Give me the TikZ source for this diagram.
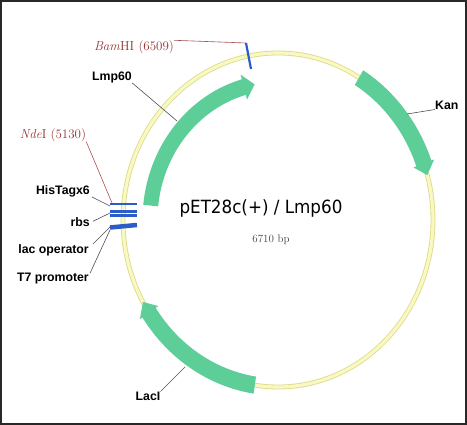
\documentclass[tikz,border=0pt]{standalone}
\usepackage{fontspec}
\newfontfamily\lblfont{Liberation Sans}
\newfontfamily\titlefont[FakeStretch=0.92]{DejaVu Sans}
\definecolor{genegreen}{RGB}{94,206,152}
\definecolor{ringedge}{RGB}{218,218,140}
\definecolor{ringfill}{RGB}{248,248,192}
\definecolor{featblue}{RGB}{44,92,200}
\definecolor{sitered}{RGB}{150,50,50}
\definecolor{siteline}{RGB}{165,80,80}
\definecolor{leadgrey}{RGB}{80,80,80}
\definecolor{framecol}{RGB}{40,40,40}
\def\ellk{1.0774}
\newcommand\genearrow[6]{%
  \pgfmathsetmacro\gaRo{#1+#2/2}\pgfmathsetmacro\gaRoy{(#1+#2/2)*\ellk}%
  \pgfmathsetmacro\gaRi{#1-#2/2}\pgfmathsetmacro\gaRiy{(#1-#2/2)*\ellk}%
  \pgfmathsetmacro\gaHo{#1+#3/2}\pgfmathsetmacro\gaHoy{(#1+#3/2)*\ellk}%
  \pgfmathsetmacro\gaHi{#1-#3/2}\pgfmathsetmacro\gaHiy{(#1-#3/2)*\ellk}%
  \pgfmathsetmacro\gaRy{#1*\ellk}%
  \fill[gene] (#4:\gaRo pt and \gaRoy pt)
    arc[start angle=#4, end angle=#5, x radius=\gaRo pt, y radius=\gaRoy pt]
    -- (#5:\gaHo pt and \gaHoy pt) -- (#6:#1pt and \gaRy pt)
    -- (#5:\gaHi pt and \gaHiy pt) -- (#5:\gaRi pt and \gaRiy pt)
    arc[start angle=#5, end angle=#4, x radius=\gaRi pt, y radius=\gaRiy pt]
    -- cycle;}
\begin{document}
\begin{tikzpicture}[x=1pt,y=1pt,
  gene/.style={fill=genegreen},
  ring/.style={draw=ringedge, line width=0.8pt, double=ringfill, double distance=3.2pt},
  feat/.style={draw=featblue},
  lbl/.style={inner sep=0pt, font=\lblfont\bfseries\fontsize{12.3}{14}\selectfont, text=black},
  site/.style={inner sep=0pt, text=sitered, font=\fontsize{13}{15}\selectfont},
  lead/.style={draw=leadgrey, line width=0.6pt},
  sitelead/.style={draw=siteline, line width=0.6pt}]
\useasboundingbox (-278,-205) rectangle (189,220);
% plasmid ring
\draw[ring] (0,0) ellipse [x radius=155pt, y radius=167pt];
% genes
\genearrow{128}{15}{24}{174}{105.5}{100.5}
\genearrow{155}{16}{22}{58.5}{19.8}{15.6}
\genearrow{155}{16}{22}{261.4}{213.7}{209.4}
\begin{scope}[shift={(-278,220)}, y=-1pt]
  \draw[line width=1.5pt, draw=framecol] (1,1) rectangle (466,424);
  % feature coordinates
  \coordinate (bamtop) at (246,43);
  \coordinate (bambot) at (251,69);
  \coordinate (lmpedge) at (177,121);
  \coordinate (ndesite) at (112,203);
  \coordinate (hisend) at (110,206);
  \coordinate (rbsend) at (110,213);
  \coordinate (lacend) at (110,227);
  \coordinate (t7end) at (110,230);
  \coordinate (kanedge) at (407,114);
  \coordinate (laciedge) at (185,367);
  % features
  \draw[feat, line width=2.2pt] (bamtop) -- (bambot);
  \draw[feat, line width=1.8pt] (110,204) -- (137,204);
  \draw[feat, line width=2.8pt] (110,211.2) -- (137,211.2);
  \draw[feat, line width=2.8pt] (110,215.2) -- (137,215.2);
  \draw[feat, line width=4.5pt] (110,227.5) -- (137,225);
  % labels
  \node[site] (bam) at (134,47) {\textit{Bam}HI (6509)};
  \node[site] (nde) at (53,135) {\textit{Nde}I (5130)};
  \node[lbl] (lmp) at (112,77) {Lmp60};
  \node[lbl, anchor=east] (his) at (90,191) {HisTagx6};
  \node[lbl, anchor=east] (rbs) at (90,222) {rbs};
  \node[lbl, anchor=east] (lac) at (89,250) {lac operator};
  \node[lbl, anchor=east] (t7) at (89,279) {T7 promoter};
  \node[lbl, anchor=west] (kan) at (435,105) {Kan};
  \node[lbl] (laci) at (148,396) {LacI};
  \node[inner sep=0pt] (title) at (261,208) {\titlefont\fontsize{18.2}{20}\selectfont pET28c(+) / Lmp60};
  \node[inner sep=0pt, text=black!75] (bp) at (271,240) {\fontsize{11}{13}\selectfont 6710 bp};
  % leader lines
  \draw[sitelead] (bam.north east) -- (bamtop);
  \draw[sitelead] (nde.south east) -- (ndesite);
  \draw[lead] (lmp.south east) -- (lmpedge);
  \draw[lead] ([xshift=2pt]his.south east) -- (hisend);
  \draw[lead] ([xshift=3pt,yshift=-4pt]rbs.north east) -- (rbsend);
  \draw[lead] ([xshift=4pt]lac.north east) -- (lacend);
  \draw[lead] ([xshift=1pt]t7.north east) -- (t7end);
  \draw[lead] (kan.south west) -- (kanedge);
  \draw[lead] (laci.north east) -- (laciedge);
\end{scope}
\end{tikzpicture}
\end{document}
